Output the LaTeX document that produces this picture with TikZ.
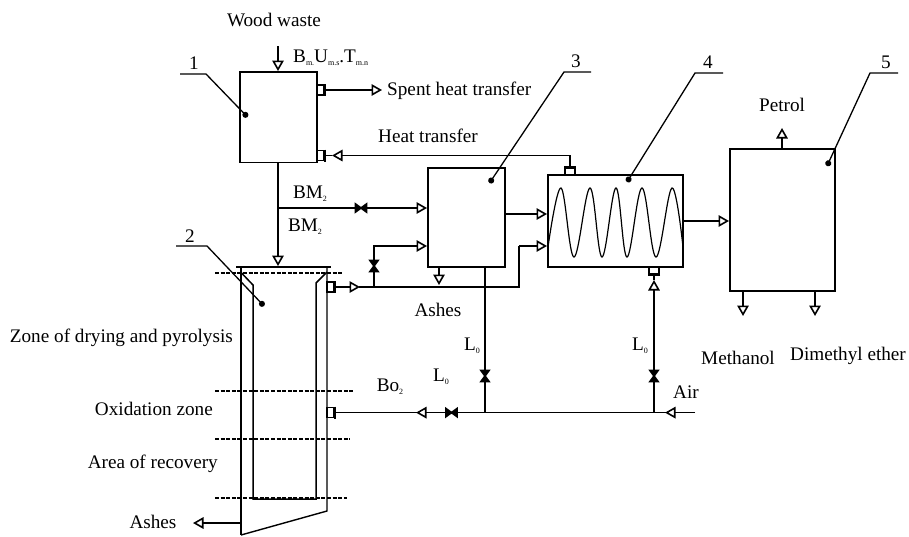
\documentclass[tikz,border=0pt]{standalone}
\usepackage{fontspec}
\setmainfont{Liberation Serif}
\usetikzlibrary{arrows.meta, positioning, calc}
\newcommand{\lowsub}[1]{\raisebox{-3pt}{\fontsize{8}{8}\selectfont #1}}

\begin{document}
\begin{tikzpicture}[
    x=1pt, y=-1pt,
    unit/.style={
        rectangle, draw=black, line width=1.7pt, fill=white,
        inner sep=0pt, outer sep=0pt
    },
    txt/.style={inner sep=0pt, font=\fontsize{19.2}{21}\selectfont},
    num/.style={inner sep=0pt, font=\fontsize{19.2}{21}\selectfont},
    pipe/.style={line width=1.6pt},
    arr/.style={-{Triangle[open,fill=white,length=10.5pt,width=11.5pt,line width=1.6pt]}, line width=1.6pt},
    lead/.style={{Circle[length=6pt]}-, line width=1.3pt},
    zone/.style={dashed, dash pattern=on 4pt off 1.6pt, line width=1.3pt},
    port/.pic={
        \draw[line width=1.3pt, fill=white] (0,-5) rectangle (7,5);
        \draw[line width=2.2pt] (8,-6) -- (8,6);
    },
    valve/.pic={
        \draw[line width=1.7pt, fill=black] (-5.5,-4) -- (5.5,4) -- (5.5,-4) -- (-5.5,4) -- cycle;
    }
]
\useasboundingbox (0,0) rectangle (909,536);

% apparatus
\node[unit, minimum width=77pt, minimum height=90.5pt]  (dryer)  at (278.5,117.3) {};
\node[unit, minimum width=77pt, minimum height=99pt]    (burner) at (466.5,217.5) {};
\node[unit, minimum width=135pt, minimum height=92pt]   (synth)  at (615.5,221) {};
\node[unit, minimum width=105pt, minimum height=142pt]  (reactor) at (782.5,220) {};

% gasifier
\coordinate (gasTL) at (241,267);
\coordinate (gasTR) at (327,267);
\coordinate (gasBL) at (241,535);
\coordinate (gasBR) at (327,511);
\draw[line width=1.4pt] (gasTR) -- (gasBR) -- (gasBL);
\draw[line width=1.9pt] (gasTL) -- (gasBL);
\draw[line width=1.9pt] (236,267) -- (331,267);
\draw[line width=1.5pt] (241.5,273) -- (253,285) -- (253,499) -- (316,499) -- (316,283) -- (327,272);

% zones
\draw[zone] (215,273) -- (342,273);
\draw[zone] (215,391) -- (353,391);
\draw[zone] (215,439) -- (350,439);
\draw[zone] (215,498) -- (347,498);

% coil
\draw[line width=1.2pt] plot[smooth, tension=0.62] coordinates {
    (548,247) (561,188) (574,257) (590,188) (602,257) (616,188)
    (627,257) (642,188) (656,257) (672,188) (683,247)};

% junctions
\coordinate (feed)   at (278,46);
\coordinate (branch) at (278,208);
\coordinate (riser)  at (374,287);
\coordinate (bypass) at (374,246);
\coordinate (bend)   at (519,287);
\coordinate (bendUp) at (519,246);
\coordinate (dropA)  at (485,412.6);
\coordinate (dropB)  at (654,412.6);
\coordinate (airIn)  at (695,412.6);

% streams
\draw[arr] (feed) -- (278,71);
\draw[arr] (325,90) -- (382,90);
\draw[pipe] (570,167) -- (570,155.5) -- (342,155.5);
\draw[arr] (343,155.5) -- (332,155.5);
\draw[pipe] (332,155.5) -- (325,155.5);
\draw[arr] (dryer.south -| branch) -- (278,266);
\draw[arr] (branch) -- (427,208);
\draw[arr] (335,287) -- (360,287);
\draw[pipe] (359,287) -- (bend) -- (bendUp);
\draw[arr] (bendUp) -- (547,246);
\draw[arr] (riser) -- (bypass) -- (427,246);
\draw[arr] (burner.east |- 0,214) -- (547,214);
\draw[arr] (synth.east |- 0,221) -- (729,221);
\draw[arr] (439,267) -- (439,285);
\draw[pipe] (burner.south -| dropA) -- (dropA);
\draw[line width=2.8pt] (485,267) -- (485,289);
\draw[arr] (782,149) -- (782,128);
\draw[arr] (743,291) -- (743,316);
\draw[arr] (815,291) -- (815,316);
\draw[pipe] (airIn) -- (335,412.6);
\draw[arr] (676,412.6) -- (665,412.6);
\draw[arr] (427,412.6) -- (416,412.6);
\draw[arr] (dropB) -- (654,280);
\draw[pipe] (654,280) -- (654,275);
\draw[arr] (241,523) -- (193,523);

% ports
\pic at (317,90) {port};
\pic at (317,155.5) {port};
\pic at (327,287) {port};
\pic at (327,412.6) {port};
\pic[rotate=90] at (570,175) {port};
\pic[rotate=-90] at (654,267) {port};

% valves
\pic at (361,208) {valve};
\pic[rotate=90] at (374,266) {valve};
\pic[rotate=90] at (485,376) {valve};
\pic[rotate=90] at (654,376) {valve};
\pic at (451.5,412.6) {valve};

% leaders
\draw[lead] (247.5,117) -- (206,74) -- (180,74);
\draw[lead] (264,306) -- (207,246) -- (176,246);
\draw[lead] (489.5,183) -- (564,72) -- (591,72);
\draw[lead] (627,182) -- (695,73) -- (723,73);
\draw[lead] (827,166) -- (870,73) -- (898,73);
\node[num] (tag1) at (194,63) {1};
\node[num] (tag2) at (190,236) {2};
\node[num] (tag3) at (576,61) {3};
\node[num] (tag4) at (708,62) {4};
\node[num] (tag5) at (886,62) {5};

% labels
\node[txt] (wood) at (274,20) {Wood waste};
\node[txt, anchor=west] (bum) at (293,58) {B\lowsub{m.}U\lowsub{m.s}.T\lowsub{m.n}};
\node[txt, anchor=west] (spent) at (387,91) {Spent heat transfer};
\node[txt] (heat) at (428,136) {Heat transfer};
\node[txt] (bmA) at (310,194) {BM\lowsub{2}};
\node[txt] (bmB) at (305,227) {BM\lowsub{2}};
\node[txt] (ashA) at (438,310) {Ashes};
\node[txt, anchor=east] (zdry) at (233,338) {Zone of drying and pyrolysis};
\node[txt, anchor=east] (zox) at (213,409) {Oxidation zone};
\node[txt, anchor=east] (zrec) at (218,464) {Area of recovery};
\node[txt] (ashB) at (153,522) {Ashes};
\node[txt] (bo) at (390,387) {Bo\lowsub{2}};
\node[txt] (loA) at (441,377) {L\lowsub{0}};
\node[txt] (loB) at (472,346) {L\lowsub{0}};
\node[txt] (loC) at (640,346) {L\lowsub{0}};
\node[txt] (air) at (686,392) {Air};
\node[txt] (petrol) at (782,105) {Petrol};
\node[txt] (meth) at (738,358) {Methanol};
\node[txt] (dme) at (848,356) {Dimethyl ether};

\end{tikzpicture}
\end{document}
